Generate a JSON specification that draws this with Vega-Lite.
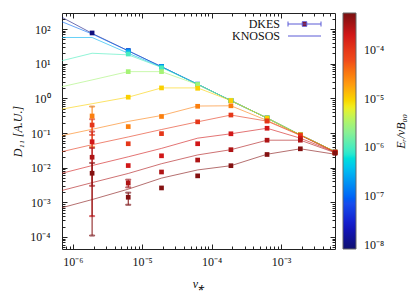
{
  "$schema": "https://vega.github.io/schema/vega-lite/v6.json",
  "width": 273,
  "height": 236,
  "autosize": {"type": "none"},
  "padding": {"left": 62, "top": 13, "right": 80, "bottom": 42},
  "background": "white",
  "config": {
    "view": {"stroke": "#222", "strokeWidth": 1},
    "font": "Liberation Serif",
    "axis": {"domain": false, "ticks": false, "tickSize": 0, "labelFont": "Liberation Serif", "labelFontSize": 12, "labelColor": "#111", "titleFont": "Liberation Serif", "titleFontSize": 12, "titleFontWeight": "normal", "titleFontStyle": "italic", "titleColor": "#111", "labelOverlap": false, "labelFlush": false, "gridColor": "#222", "gridWidth": 1, "gridOpacity": 1}
  },
  "datasets": {
    "knosos": [
      {"Er":1e-8,"nu":7e-7,"D":217},{"Er":1e-8,"nu":1.9e-6,"D":75},{"Er":1e-8,"nu":6.3e-6,"D":23.5},{"Er":1e-8,"nu":1.9e-5,"D":8.2},{"Er":1e-8,"nu":6.3e-5,"D":2.55},{"Er":1e-8,"nu":1.9e-4,"D":0.86},{"Er":1e-8,"nu":6.3e-4,"D":0.27},{"Er":1e-8,"nu":1.9e-3,"D":0.088},{"Er":1e-8,"nu":6e-3,"D":0.029},
      {"Er":1e-7,"nu":7e-7,"D":162},{"Er":1e-7,"nu":1.9e-6,"D":72},{"Er":1e-7,"nu":6.3e-6,"D":23.5},{"Er":1e-7,"nu":1.9e-5,"D":8.2},{"Er":1e-7,"nu":6.3e-5,"D":2.55},{"Er":1e-7,"nu":1.9e-4,"D":0.86},{"Er":1e-7,"nu":6.3e-4,"D":0.27},{"Er":1e-7,"nu":1.9e-3,"D":0.088},{"Er":1e-7,"nu":6e-3,"D":0.029},
      {"Er":3e-7,"nu":7e-7,"D":57},{"Er":3e-7,"nu":1.9e-6,"D":57},{"Er":3e-7,"nu":6.3e-6,"D":20},{"Er":3e-7,"nu":1.9e-5,"D":8.0},{"Er":3e-7,"nu":6.3e-5,"D":2.55},{"Er":3e-7,"nu":1.9e-4,"D":0.86},{"Er":3e-7,"nu":6.3e-4,"D":0.27},{"Er":3e-7,"nu":1.9e-3,"D":0.088},{"Er":3e-7,"nu":6e-3,"D":0.029},
      {"Er":1e-6,"nu":7e-7,"D":12.2},{"Er":1e-6,"nu":1.9e-6,"D":20},{"Er":1e-6,"nu":6.3e-6,"D":18},{"Er":1e-6,"nu":1.9e-5,"D":7.8},{"Er":1e-6,"nu":6.3e-5,"D":2.55},{"Er":1e-6,"nu":1.9e-4,"D":0.86},{"Er":1e-6,"nu":6.3e-4,"D":0.27},{"Er":1e-6,"nu":1.9e-3,"D":0.088},{"Er":1e-6,"nu":6e-3,"D":0.029},
      {"Er":3e-6,"nu":7e-7,"D":2.17},{"Er":3e-6,"nu":1.9e-6,"D":3.4},{"Er":3e-6,"nu":6.3e-6,"D":5.9},{"Er":3e-6,"nu":1.9e-5,"D":5.9},{"Er":3e-6,"nu":6.3e-5,"D":2.5},{"Er":3e-6,"nu":1.9e-4,"D":0.86},{"Er":3e-6,"nu":6.3e-4,"D":0.27},{"Er":3e-6,"nu":1.9e-3,"D":0.088},{"Er":3e-6,"nu":6e-3,"D":0.029},
      {"Er":1e-5,"nu":7e-7,"D":0.49},{"Er":1e-5,"nu":1.9e-6,"D":0.70},{"Er":1e-5,"nu":6.3e-6,"D":1.08},{"Er":1e-5,"nu":1.9e-5,"D":2.0},{"Er":1e-5,"nu":6.3e-5,"D":2.0},{"Er":1e-5,"nu":1.9e-4,"D":0.86},{"Er":1e-5,"nu":6.3e-4,"D":0.27},{"Er":1e-5,"nu":1.9e-3,"D":0.088},{"Er":1e-5,"nu":6e-3,"D":0.029},
      {"Er":3e-5,"nu":7e-7,"D":0.084},{"Er":3e-5,"nu":1.9e-6,"D":0.128},{"Er":3e-5,"nu":6.3e-6,"D":0.216},{"Er":3e-5,"nu":1.9e-5,"D":0.32},{"Er":3e-5,"nu":6.3e-5,"D":0.60},{"Er":3e-5,"nu":1.9e-4,"D":0.61},{"Er":3e-5,"nu":6.3e-4,"D":0.23},{"Er":3e-5,"nu":1.9e-3,"D":0.088},{"Er":3e-5,"nu":6e-3,"D":0.029},
      {"Er":1e-4,"nu":7e-7,"D":0.029},{"Er":1e-4,"nu":1.9e-6,"D":0.046},{"Er":1e-4,"nu":6.3e-6,"D":0.077},{"Er":1e-4,"nu":1.9e-5,"D":0.126},{"Er":1e-4,"nu":6.3e-5,"D":0.21},{"Er":1e-4,"nu":1.9e-4,"D":0.33},{"Er":1e-4,"nu":6.3e-4,"D":0.22},{"Er":1e-4,"nu":1.9e-3,"D":0.085},{"Er":1e-4,"nu":6e-3,"D":0.028},
      {"Er":2e-4,"nu":7e-7,"D":0.0069},{"Er":2e-4,"nu":1.9e-6,"D":0.0115},{"Er":2e-4,"nu":6.3e-6,"D":0.0206},{"Er":2e-4,"nu":1.9e-5,"D":0.036},{"Er":2e-4,"nu":6.3e-5,"D":0.071},{"Er":2e-4,"nu":1.9e-4,"D":0.095},{"Er":2e-4,"nu":6.3e-4,"D":0.137},{"Er":2e-4,"nu":1.9e-3,"D":0.071},{"Er":2e-4,"nu":6e-3,"D":0.028},
      {"Er":3e-4,"nu":7e-7,"D":0.0022},{"Er":3e-4,"nu":1.9e-6,"D":0.0037},{"Er":3e-4,"nu":6.3e-6,"D":0.0068},{"Er":3e-4,"nu":1.9e-5,"D":0.013},{"Er":3e-4,"nu":6.3e-5,"D":0.0233},{"Er":3e-4,"nu":1.9e-4,"D":0.033},{"Er":3e-4,"nu":6.3e-4,"D":0.062},{"Er":3e-4,"nu":1.9e-3,"D":0.062},{"Er":3e-4,"nu":6e-3,"D":0.027},
      {"Er":5e-4,"nu":7e-7,"D":0.0007},{"Er":5e-4,"nu":1.9e-6,"D":0.0012},{"Er":5e-4,"nu":6.3e-6,"D":0.0024},{"Er":5e-4,"nu":1.9e-5,"D":0.005},{"Er":5e-4,"nu":6.3e-5,"D":0.0086},{"Er":5e-4,"nu":1.9e-4,"D":0.0114},{"Er":5e-4,"nu":6.3e-4,"D":0.0244},{"Er":5e-4,"nu":1.9e-3,"D":0.035},{"Er":5e-4,"nu":6e-3,"D":0.0244}
    ],
    "dkes": [
      {"Er":1e-8,"nu":1.9e-6,"D":77},{"Er":1e-8,"nu":6.3e-6,"D":23.7},{"Er":1e-8,"nu":1.9e-5,"D":8.3},{"Er":1e-8,"nu":6.3e-5,"D":2.55},{"Er":1e-8,"nu":1.9e-4,"D":0.86},{"Er":1e-8,"nu":6.3e-4,"D":0.27},{"Er":1e-8,"nu":1.9e-3,"D":0.088},{"Er":1e-8,"nu":6e-3,"D":0.028},
      {"Er":1e-7,"nu":6.3e-6,"D":23.7},{"Er":1e-7,"nu":1.9e-5,"D":8.3},{"Er":1e-7,"nu":6.3e-5,"D":2.55},{"Er":1e-7,"nu":1.9e-4,"D":0.86},{"Er":1e-7,"nu":6.3e-4,"D":0.27},{"Er":1e-7,"nu":1.9e-3,"D":0.088},{"Er":1e-7,"nu":6e-3,"D":0.028},
      {"Er":3e-7,"nu":6.3e-6,"D":22},{"Er":3e-7,"nu":1.9e-5,"D":8.2},{"Er":3e-7,"nu":6.3e-5,"D":2.55},{"Er":3e-7,"nu":1.9e-4,"D":0.86},{"Er":3e-7,"nu":6.3e-4,"D":0.27},{"Er":3e-7,"nu":1.9e-3,"D":0.088},{"Er":3e-7,"nu":6e-3,"D":0.028},
      {"Er":1e-6,"nu":6.3e-6,"D":19},{"Er":1e-6,"nu":1.9e-5,"D":7.6},{"Er":1e-6,"nu":6.3e-5,"D":2.5},{"Er":1e-6,"nu":1.9e-4,"D":0.86},{"Er":1e-6,"nu":6.3e-4,"D":0.27},{"Er":1e-6,"nu":1.9e-3,"D":0.088},{"Er":1e-6,"nu":6e-3,"D":0.028},
      {"Er":3e-6,"nu":6.3e-6,"D":5.9},{"Er":3e-6,"nu":1.9e-5,"D":5.9},{"Er":3e-6,"nu":6.3e-5,"D":2.5},{"Er":3e-6,"nu":1.9e-4,"D":0.88},{"Er":3e-6,"nu":6.3e-4,"D":0.27},{"Er":3e-6,"nu":1.9e-3,"D":0.088},{"Er":3e-6,"nu":6e-3,"D":0.028},
      {"Er":1e-5,"nu":6.3e-6,"D":1.08},{"Er":1e-5,"nu":1.9e-5,"D":2.0},{"Er":1e-5,"nu":6.3e-5,"D":1.95},{"Er":1e-5,"nu":1.9e-4,"D":0.86},{"Er":1e-5,"nu":6.3e-4,"D":0.27},{"Er":1e-5,"nu":1.9e-3,"D":0.088},{"Er":1e-5,"nu":6e-3,"D":0.028},
      {"Er":3e-5,"nu":1.9e-6,"D":0.31,"lo":0.04,"hi":0.58},{"Er":3e-5,"nu":6.3e-6,"D":0.153},{"Er":3e-5,"nu":1.9e-5,"D":0.30},{"Er":3e-5,"nu":6.3e-5,"D":0.59},{"Er":3e-5,"nu":1.9e-4,"D":0.61},{"Er":3e-5,"nu":6.3e-4,"D":0.228},{"Er":3e-5,"nu":1.9e-3,"D":0.088},{"Er":3e-5,"nu":6e-3,"D":0.028},
      {"Er":1e-4,"nu":1.9e-6,"D":0.17,"lo":0.088,"hi":0.25},{"Er":1e-4,"nu":6.3e-6,"D":0.049},{"Er":1e-4,"nu":1.9e-5,"D":0.096},{"Er":1e-4,"nu":6.3e-5,"D":0.21},{"Er":1e-4,"nu":1.9e-4,"D":0.33},{"Er":1e-4,"nu":6.3e-4,"D":0.22},{"Er":1e-4,"nu":1.9e-3,"D":0.085},{"Er":1e-4,"nu":6e-3,"D":0.028},
      {"Er":2e-4,"nu":1.9e-6,"D":0.056,"lo":0.0004,"hi":0.11},{"Er":2e-4,"nu":6.3e-6,"D":0.0115},{"Er":2e-4,"nu":1.9e-5,"D":0.022},{"Er":2e-4,"nu":6.3e-5,"D":0.049},{"Er":2e-4,"nu":1.9e-4,"D":0.095},{"Er":2e-4,"nu":6.3e-4,"D":0.137},{"Er":2e-4,"nu":1.9e-3,"D":0.071},{"Er":2e-4,"nu":6e-3,"D":0.028},
      {"Er":3e-4,"nu":1.9e-6,"D":0.020,"lo":0.003,"hi":0.037},{"Er":3e-4,"nu":6.3e-6,"D":0.0036,"lo":0.0027,"hi":0.0045},{"Er":3e-4,"nu":1.9e-5,"D":0.0075},{"Er":3e-4,"nu":6.3e-5,"D":0.0166},{"Er":3e-4,"nu":1.9e-4,"D":0.033},{"Er":3e-4,"nu":6.3e-4,"D":0.062},{"Er":3e-4,"nu":1.9e-3,"D":0.062},{"Er":3e-4,"nu":6e-3,"D":0.027},
      {"Er":5e-4,"nu":1.9e-6,"D":0.0069,"lo":0.00011,"hi":0.0137},{"Er":5e-4,"nu":6.3e-6,"D":0.0014,"lo":0.00085,"hi":0.0019},{"Er":5e-4,"nu":1.9e-5,"D":0.0026},{"Er":5e-4,"nu":6.3e-5,"D":0.0058},{"Er":5e-4,"nu":1.9e-4,"D":0.0114},{"Er":5e-4,"nu":6.3e-4,"D":0.024},{"Er":5e-4,"nu":1.9e-3,"D":0.035},{"Er":5e-4,"nu":6e-3,"D":0.026}
    ]
  },
  "resolve": {"axis": {"x": "independent", "y": "independent"}},
  "layer": [
    {
      "data": {"name": "knosos"},
      "mark": {"type": "line", "strokeWidth": 1, "strokeOpacity": 0.6, "clip": true},
      "encoding": {
        "x": {"field": "nu", "type": "quantitative", "scale": {"type": "log", "domain": [7e-7, 6e-3], "nice": false},
          "axis": {"orient": "bottom", "title": "ν⁎", "titlePadding": 11, "values": [1e-6, 1e-5, 1e-4, 1e-3], "labelPadding": 7,
            "grid": true, "gridDash": [5, 226, 5],
            "labelExpr": "'10' + (round(log(datum.value)/LN10) < 0 ? '⁻' : '') + substring('⁰¹²³⁴⁵⁶⁷⁸⁹', abs(round(log(datum.value)/LN10)), abs(round(log(datum.value)/LN10)) + 1)"}},
        "y": {"field": "D", "type": "quantitative", "scale": {"type": "log", "domain": [4.5e-5, 290], "nice": false},
          "axis": {"orient": "left", "title": "D₁₁ [A.U.]", "titlePadding": 5, "values": [1e-4, 1e-3, 1e-2, 0.1, 1, 10, 100], "labelPadding": 12,
            "grid": true, "gridDash": [5, 263, 5],
            "labelExpr": "'10' + (round(log(datum.value)/LN10) < 0 ? '⁻' : '') + substring('⁰¹²³⁴⁵⁶⁷⁸⁹', abs(round(log(datum.value)/LN10)), abs(round(log(datum.value)/LN10)) + 1)"}},
        "stroke": {"field": "Er", "type": "quantitative",
          "scale": {"type": "log", "domain": [8.32e-9, 2.53e-8, 7.69e-8, 2.34e-7, 7.11e-7, 2.16e-6, 6.58e-6, 2.0e-5, 6.08e-5, 1.85e-4, 5.62e-4],
            "range": ["#101070", "#1414c8", "#1850f0", "#1aa0f0", "#28e8d0", "#90f090", "#f0f020", "#ff9a10", "#f04a1a", "#d81818", "#7a1010"]},
          "legend": {"orient": "none", "legendX": 281, "legendY": 0, "direction": "vertical", "gradientLength": 236, "gradientThickness": 13, "title": null,
            "gradientStrokeColor": "#666", "gradientStrokeWidth": 1,
            "labelExpr": "'10' + (round(log(datum.value)/LN10) < 0 ? '⁻' : '') + substring('⁰¹²³⁴⁵⁶⁷⁸⁹', abs(round(log(datum.value)/LN10)), abs(round(log(datum.value)/LN10)) + 1)",
            "labelFont": "Liberation Serif", "labelFontSize": 12, "labelColor": "#111", "labelOffset": 8}},
        "detail": {"field": "Er"}
      }
    },
    {
      "data": {"name": "dkes"},
      "transform": [{"filter": "isValid(datum.lo)"}],
      "mark": {"type": "errorbar", "thickness": 1, "ticks": {"size": 5}},
      "encoding": {
        "x": {"field": "nu", "type": "quantitative",
          "axis": {"orient": "bottom", "title": null, "labels": false, "grid": true, "gridDash": [3, 230, 3],
            "values": [8e-7,9e-7,2e-6,3e-6,4e-6,5e-6,6e-6,7e-6,8e-6,9e-6,2e-5,3e-5,4e-5,5e-5,6e-5,7e-5,8e-5,9e-5,2e-4,3e-4,4e-4,5e-4,6e-4,7e-4,8e-4,9e-4,2e-3,3e-3,4e-3,5e-3]}},
        "y": {"field": "lo", "type": "quantitative",
          "axis": {"orient": "left", "title": null, "labels": false, "grid": true, "gridDash": [3, 267, 3],
            "values": [5e-5,6e-5,7e-5,8e-5,9e-5,2e-4,3e-4,4e-4,5e-4,6e-4,7e-4,8e-4,9e-4,2e-3,3e-3,4e-3,5e-3,6e-3,7e-3,8e-3,9e-3,2e-2,3e-2,4e-2,5e-2,6e-2,7e-2,8e-2,9e-2,0.2,0.3,0.4,0.5,0.6,0.7,0.8,0.9,2,3,4,5,6,7,8,9,20,30,40,50,60,70,80,90,200]}},
        "y2": {"field": "hi"},
        "stroke": {"field": "Er", "type": "quantitative", "legend": null}
      }
    },
    {
      "data": {"name": "dkes"},
      "mark": {"type": "square", "size": 22, "filled": true, "opacity": 1},
      "encoding": {
        "x": {"field": "nu", "type": "quantitative", "axis": null},
        "y": {"field": "D", "type": "quantitative",
          "axis": {"orient": "right", "labels": false, "grid": false, "values": [1],
            "title": "Eᵣ/vB₀₀", "titleAngle": 270, "titleX": 65, "titleY": 118, "titleBaseline": "middle", "titleAlign": "center"}},
        "fill": {"field": "Er", "type": "quantitative",
          "scale": {"type": "log", "domain": [8.33e-9, 2.531e-8, 7.691e-8, 2.341e-7, 7.111e-7, 2.161e-6, 6.581e-6, 2.001e-5, 6.081e-5, 1.851e-4, 5.621e-4],
            "range": ["#101070", "#1414c8", "#1850f0", "#1aa0f0", "#28e8d0", "#90f090", "#f0f020", "#ff9a10", "#f04a1a", "#d81818", "#7a1010"]},
          "legend": null}
      }
    },
    {
      "data": {"name": "dkes"},
      "mark": {"type": "point", "filled": false, "stroke": "#5a5ad6", "fill": "#8b0000", "opacity": 0, "size": 100},
      "encoding": {
        "x": {"field": "nu", "type": "quantitative", "axis": null},
        "y": {"field": "D", "type": "quantitative", "axis": null},
        "shape": {"field": "src", "type": "nominal",
          "scale": {"domain": ["DKES", "KNOSOS"], "range": ["M-3.3,0H3.3M-3.3,-0.5V0.5M3.3,-0.5V0.5M-0.45,-0.45H0.45V0.45H-0.45Z", "M-3.3,0H3.3"]},
          "legend": {"orient": "none", "legendX": 236.5, "legendY": 5, "title": null, "symbolSize": 100, "symbolStrokeWidth": 1, "symbolOpacity": 1,
            "labelAlign": "right", "labelOffset": -30.5, "labelFont": "Liberation Serif", "labelFontSize": 12, "labelColor": "#111",
            "rowPadding": 0, "padding": 0}}
      }
    }
  ]
}
